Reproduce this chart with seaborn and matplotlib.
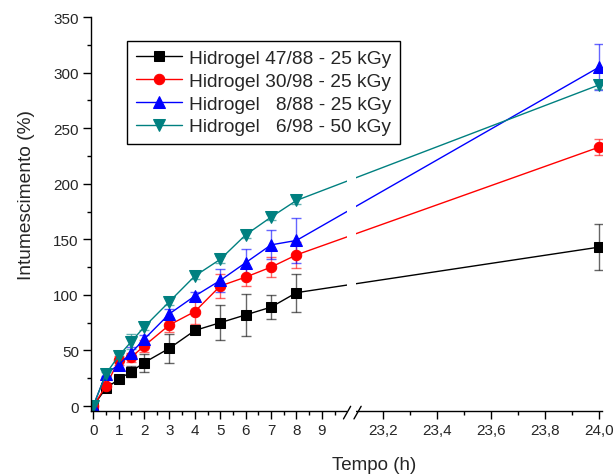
import numpy as np
import pandas as pd
import matplotlib
matplotlib.use("Agg")
import matplotlib.pyplot as plt
import seaborn as sns

# dados
tempo = [0, 0.5, 1, 1.5, 2, 3, 4, 5, 6, 7, 8, 24]

h47_88 = [0, 16, 24, 31, 39, 52, 68, 75, 82, 89, 102, 143]
h47_88_err = [1, 3, 3, 5, 8, 13, 3, 16, 19, 11, 17, 21]

h30_98 = [0, 18, 41, 44, 54, 73, 85, 108, 116, 125, 136, 233]
h30_98_err = [1, 3, 4, 4, 5, 6, 11, 11, 8, 9, 12, 7]

h8_88 = [0, 29, 37, 48, 60, 83, 99, 113, 129, 145, 149, 305]
h8_88_err = [1, 3, 4, 5, 4, 4, 4, 10, 12, 13, 20, 21]

h6_98 = [0, 29, 45, 58, 71, 94, 117, 132, 154, 170, 185, 289]
h6_98_err = [1, 2, 3, 7, 3, 3, 3, 3, 3, 3, 3, 4]

series = [
    ("Hidrogel 47/88 - 25 kGy", h47_88, h47_88_err, "black", "s", 6.5),
    ("Hidrogel 30/98 - 25 kGy", h30_98, h30_98_err, "#FF0000", "o", 7.5),
    ("Hidrogel   8/88 - 25 kGy", h8_88, h8_88_err, "#0000FF", "^", 8),
    ("Hidrogel   6/98 - 50 kGy", h6_98, h6_98_err, "#008080", "v", 8),
]

ticks_major = [0, 1, 2, 3, 4, 5, 6, 7, 8, 9, 23.2, 23.4, 23.6, 23.8, 24.0]
tick_labels = ["0", "1", "2", "3", "4", "5", "6", "7", "8", "9",
               "23,2", "23,4", "23,6", "23,8", "24,0"]
ticks_minor = [0.5, 1.5, 2.5, 3.5, 4.5, 5.5, 6.5, 7.5, 8.5, 9.5,
               23.3, 23.5, 23.7, 23.9]

# eixo x quebrado: 0-10 e 23,1-24
B1, B2 = 10.0, 23.1
GAP = 0.35
K = 10.63


def fwd(x):
    x = np.asarray(x, dtype=float)
    return np.where(x <= B1, x,
                    np.where(x >= B2, B1 + GAP + (x - B2) * K,
                             B1 + (x - B1) * GAP / (B2 - B1)))


def inv(y):
    y = np.asarray(y, dtype=float)
    return np.where(y <= B1, y,
                    np.where(y >= B1 + GAP, B2 + (y - B1 - GAP) / K,
                             B1 + (y - B1) * (B2 - B1) / GAP))


sns.set_style("ticks")
plt.rcParams["font.family"] = ["Liberation Sans", "DejaVu Sans"]

fig = plt.figure(figsize=(6.16, 4.77), dpi=100)
ax = fig.add_axes([0.1472, 0.1362, 0.8301, 0.8260])
ax.set_xscale("function", functions=(fwd, inv))

for label, vals, err, color, marker, ms in series:
    df = pd.DataFrame({"tempo": tempo, "valor": vals})
    ax.errorbar(tempo, vals, yerr=err, fmt="none", ecolor=color, alpha=0.6,
                capsize=3.5, elinewidth=1, capthick=1, zorder=1.5)
    sns.lineplot(x="tempo", y="valor", data=df, ax=ax, color=color,
                 marker=marker, markersize=ms, markeredgecolor=color,
                 linewidth=1, label=label)

ax.set_xlim(-0.1, 24.01)
ax.set_ylim(-4.5, 350)
ax.set_xticks(ticks_major)
ax.set_xticklabels(tick_labels)
ax.set_xticks(ticks_minor, minor=True)
ax.set_yticks(range(0, 351, 50))
ax.set_yticks(range(25, 351, 50), minor=True)
ax.tick_params(which="major", length=5.5, width=1, labelsize=11, pad=3,
               color="black")
ax.tick_params(which="minor", length=3, width=1, color="black")
for s in ["top", "right"]:
    ax.spines[s].set_visible(False)
for s in ["left", "bottom"]:
    ax.spines[s].set_linewidth(1)
    ax.spines[s].set_color("black")

# quebra do eixo
ax.axvspan(B1, B2, ymin=-0.03, ymax=1, color="white", zorder=3,
           clip_on=False, linewidth=0)
x0, x1 = fwd(-0.1), fwd(24.01)
for xb in [B1 - 0.01, B2 + 0.005]:
    xf = (fwd(xb) - x0) / (x1 - x0)
    ax.plot([xf - 0.007, xf + 0.007], [-0.02, 0.012], color="black",
            linewidth=1, transform=ax.transAxes, clip_on=False, zorder=4)

ax.set_xlabel("Tempo (h)", fontsize=13.5)
ax.set_ylabel("Intumescimento (%)", fontsize=13.8)
ax.xaxis.set_label_coords(0.554, -0.113)
ax.yaxis.set_label_coords(-0.108, 0.551)

leg = ax.legend(loc="upper left", bbox_to_anchor=(0.206, 0.912),
                bbox_transform=fig.transFigure, fontsize=13.8,
                frameon=True, fancybox=False, edgecolor="black",
                framealpha=1, handlelength=2.4, handletextpad=0.38,
                labelspacing=0.28, borderpad=0.45, borderaxespad=0)
leg.get_frame().set_linewidth(1)
leg.set_zorder(5)

fig.savefig("out.png", dpi=100)
